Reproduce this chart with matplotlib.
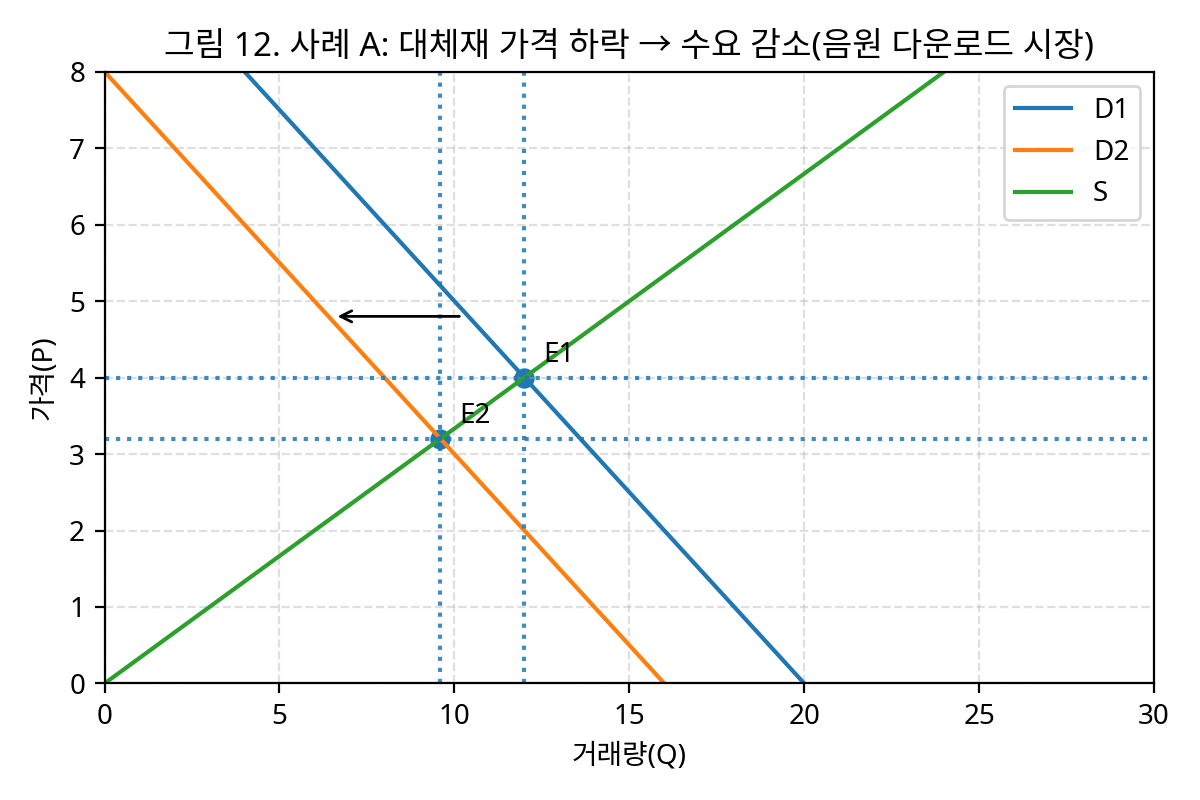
import numpy as np
import matplotlib.pyplot as plt

plt.rcParams['font.family'] = ['Noto Sans', 'Noto Sans CJK KR', 'DejaVu Sans']

# demand / supply lines as endpoints (Q, P)
d1_q = [4, 20]
d1_p = [8, 0]
d2_q = [0, 16]
d2_p = [8, 0]
s_q = [0, 24]
s_p = [0, 8]

# equilibria
eq_names = ['E1', 'E2']
eq_q = [12, 9.6]
eq_p = [4, 3.2]

fig, ax = plt.subplots(figsize=(6, 4), dpi=200)

ax.plot(d1_q, d1_p, label='D1')
ax.plot(d2_q, d2_p, label='D2')
ax.plot(s_q, s_p, label='S')

for name, q, p in zip(eq_names, eq_q, eq_p):
    ax.scatter([q], [p], color='C0', s=40)
    ax.axvline(q, linestyle=':', color='C0', alpha=0.85)
    ax.axhline(p, linestyle=':', color='C0', alpha=0.85)
    ax.annotate(name, (q, p), xytext=(q + 0.55, p + 0.2))

ax.annotate('', xy=(6.5, 4.8), xytext=(10.3, 4.8),
            arrowprops=dict(arrowstyle='->', color='black', lw=1))

ax.set_xlim(0, 30)
ax.set_ylim(0, 8)
ax.grid(True, linestyle='--', alpha=0.4)
ax.set_xlabel('거래량(Q)')
ax.set_ylabel('가격(P)')
ax.set_title('그림 12. 사례 A: 대체재 가격 하락 → 수요 감소(음원 다운로드 시장)')
ax.legend(loc='upper right')

fig.tight_layout()
fig.savefig('out.png')
